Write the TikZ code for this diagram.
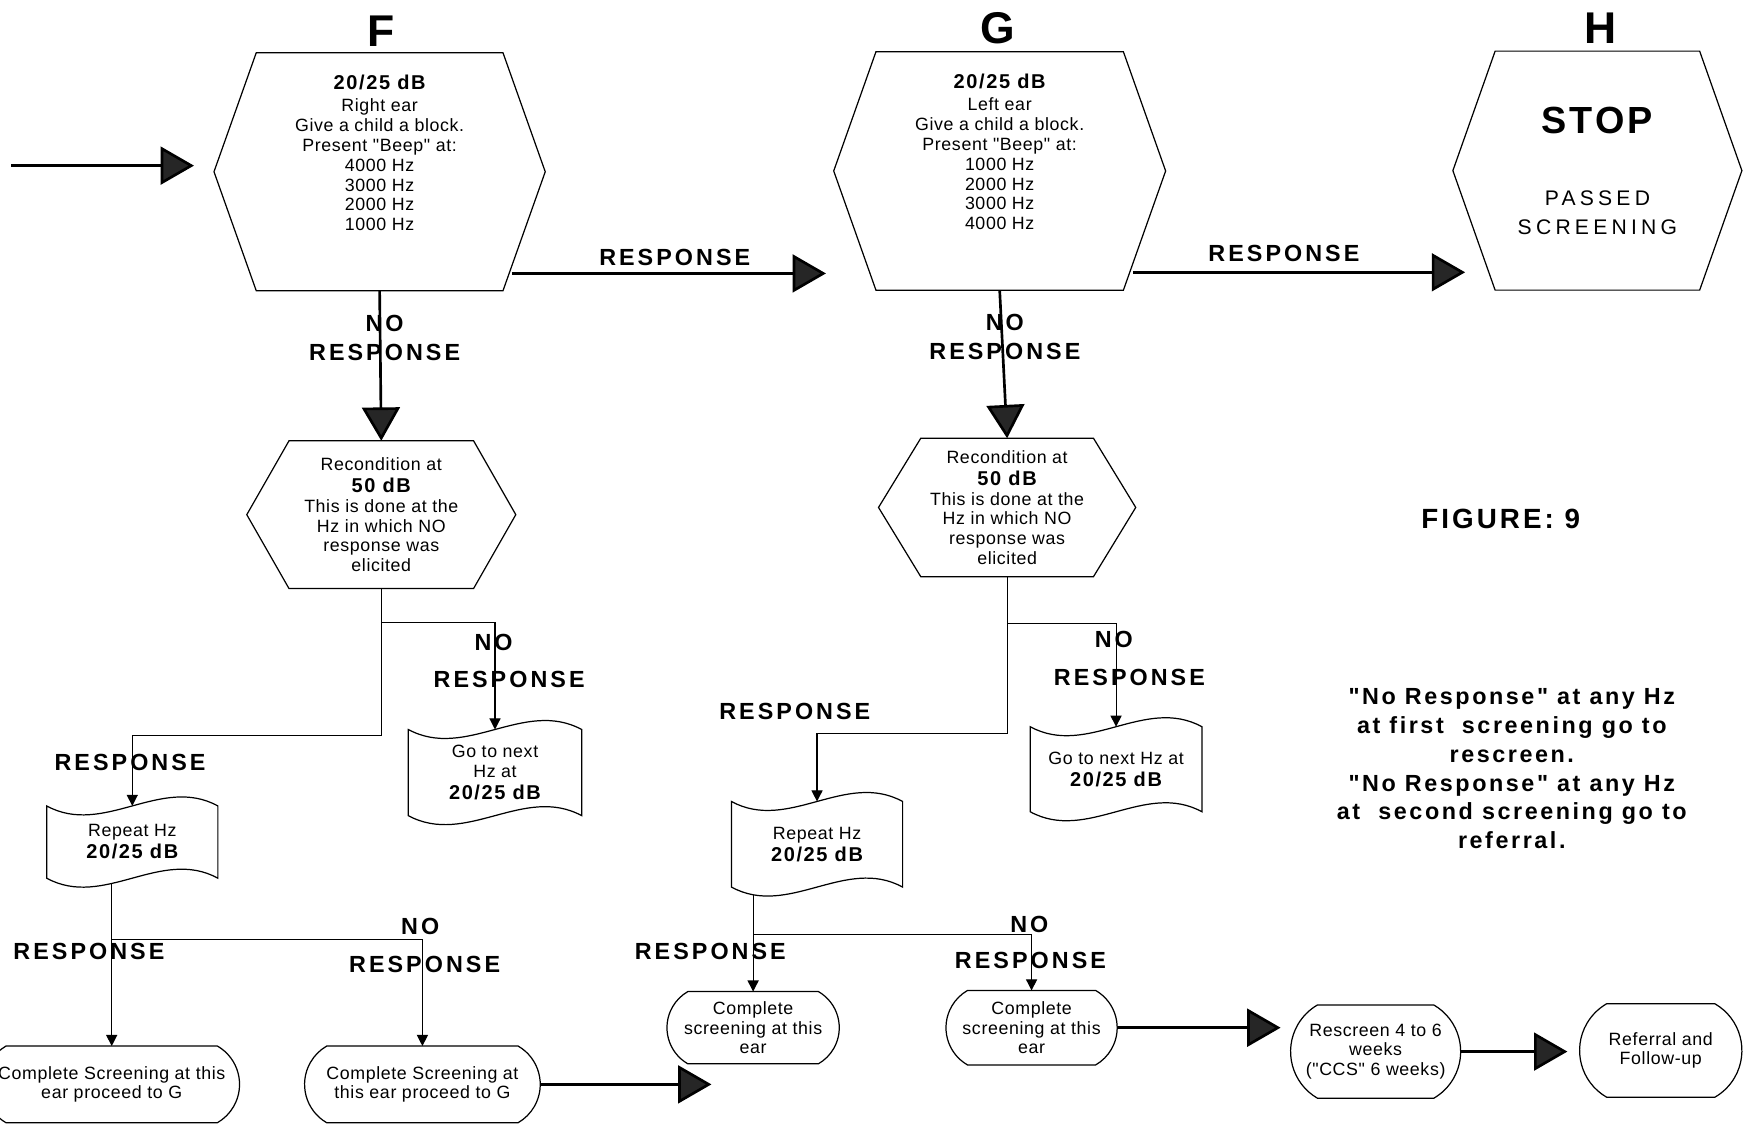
\documentclass[tikz,border=0pt]{standalone}
\usepackage{fontspec}
\setmainfont{Liberation Sans}
\newfontfamily\bodyf[LetterSpace=3.5]{Liberation Sans}
\newfontfamily\valf[LetterSpace=8]{Liberation Sans}
\newfontfamily\lblf[LetterSpace=13]{Liberation Sans}
\newfontfamily\notef[LetterSpace=11]{Liberation Sans}
\newfontfamily\passf[LetterSpace=20]{Liberation Sans}
\usetikzlibrary{arrows.meta,shapes.misc,calc}
\pgfdeclarelayer{bg}
\pgfsetlayers{bg,main}
\newcommand\drawhex[1]{\draw[hexline] (#1.west) -- ([xshift=19pt]#1.north west) -- ([xshift=-19pt]#1.north east) -- (#1.east) -- ([xshift=-19pt]#1.south east) -- ([xshift=19pt]#1.south west) -- cycle;}
\newcommand\drawdoc[1]{\filldraw[hexline, fill=white] (#1.north west) .. controls ($(#1.north west)!1/3!(#1.north east)+(0,28)$) and ($(#1.north west)!2/3!(#1.north east)+(0,-28)$) .. (#1.north east) -- (#1.south east) .. controls ($(#1.south west)!2/3!(#1.south east)+(0,-28)$) and ($(#1.south west)!1/3!(#1.south east)+(0,28)$) .. (#1.south west) -- cycle;}
\newcommand\val[1]{{\valf\bfseries\fontsize{9}{9}\selectfont #1}}
\begin{document}
\begin{tikzpicture}[x=0.5pt,y=-0.5pt,
  hexline/.style={draw=black, line width=0.55pt},
  hexbox/.style={rectangle, inner sep=0pt, outer sep=0pt},
  body/.style={font=\bodyf\fontsize{8}{8.9}\selectfont, align=center, text=black},
  doc/.style={rectangle, inner sep=0pt, outer sep=0pt, body},
  term/.style={rounded rectangle, rounded rectangle arc length=120, draw, fill=white, line width=0.55pt, inner sep=0pt, outer sep=0pt, body},
  lbl/.style={font=\lblf\bfseries\fontsize{10.5}{12}\selectfont, inner sep=0pt},
  letter/.style={font=\bfseries\fontsize{20}{20}\selectfont, inner sep=0pt},
  bigarrow/.style={line width=1.2pt, -{Triangle[length=15pt,width=17pt,fill=black!85]}},
  conn/.style={line width=0.5pt},
  smallarrow/.style={line width=0.5pt, -{Triangle[length=5pt,width=5pt]}}]
\useasboundingbox (0,0) rectangle (1568,1012);
\clip (0,0) rectangle (1568,1012);

% column letters
\node[letter] (lF) at (343,28) {F};
\node[letter] (lG) at (898,25) {G};
\node[letter] (lH) at (1440,25) {H};

% main hexagons
\node[hexbox] (F) at (341.5,154.5) {\parbox[c][107pt][t]{149pt}{\centering\bodyf\fontsize{8}{8.9}\selectfont\vspace*{10pt}\val{20/25 dB}\\[1.2pt]Right ear\\Give a child a block.\\Present "Beep" at:\\4000 Hz\\3000 Hz\\2000 Hz\\1000 Hz}};
\drawhex{F}
\node[hexbox] (G) at (899.3,153.8) {\parbox[c][107.25pt][t]{149.3pt}{\centering\bodyf\fontsize{8}{8.9}\selectfont\vspace*{10pt}\val{20/25 dB}\\[1.2pt]Left ear\\Give a child a block.\\Present "Beep" at:\\1000 Hz\\2000 Hz\\3000 Hz\\4000 Hz}};
\drawhex{G}
\node[hexbox, minimum width=130pt, minimum height=107.5pt, align=center, font=\passf\fontsize{9.5}{13}\selectfont] (H) at (1437,153.5) {{\valf\bfseries\fontsize{17}{17}\selectfont STOP}\\[19.4pt]PASSED\\SCREENING};
\drawhex{H}

% recondition hexagons
\node[hexbox, body, minimum width=121pt, minimum height=66.5pt] (RF) at (343,463) {Recondition at\\[1pt]\val{50 dB}\\This is done at the\\Hz in which NO\\response was\\elicited};
\drawhex{RF}
\node[hexbox, body, minimum width=115.7pt, minimum height=62.25pt] (RG) at (906,456.5) {Recondition at\\[1pt]\val{50 dB}\\This is done at the\\Hz in which NO\\response was\\elicited};
\drawhex{RG}

% documents (outline drawn on background layer)
\node[doc, minimum width=78pt, minimum height=38.75pt] (NF) at (445.3,695) {Go to next\\Hz at\\[1pt]\val{20/25 dB}};
\node[doc, minimum width=77pt, minimum height=32.5pt] (RepF) at (119,757.5) {Repeat Hz\\[1pt]\val{20/25 dB}};
\node[doc, minimum width=77.25pt, minimum height=38.25pt] (NG) at (1004,692) {Go to next Hz at\\[1pt]\val{20/25 dB}};
\node[doc, minimum width=77pt, minimum height=38.5pt] (RepG) at (735,759.5) {Repeat Hz\\[1pt]\val{20/25 dB}};

% terminals
\node[term, minimum width=115pt, minimum height=34.5pt] (F1) at (100.5,975.5) {Complete Screening at this\\ear proceed to G};
\node[term, minimum width=106pt, minimum height=34.5pt] (F2) at (380,975.5) {Complete Screening at\\this ear proceed to G};
\node[term, minimum width=77.5pt, minimum height=32.5pt] (G1) at (677.5,924.5) {Complete\\screening at this\\ear};
\node[term, minimum width=77pt, minimum height=33.5pt] (G2) at (928,924.5) {Complete\\screening at this\\ear};
\node[term, minimum width=76.5pt, minimum height=42pt] (Resc) at (1237.5,946) {Rescreen 4 to 6\\weeks\\("CCS" 6 weeks)};
\node[term, minimum width=73pt, minimum height=42pt] (Ref) at (1494,945) {Referral and\\Follow-up};

% labels
\node[lbl] (lbFG) at (607,232) {RESPONSE};
\node[lbl] (lbGH) at (1155,228) {RESPONSE};
\node[lbl] (lbFn1) at (346,291) {NO};
\node[lbl] (lbFn2) at (346,317) {RESPONSE};
\node[lbl] (lbGn1) at (904,290) {NO};
\node[lbl] (lbGn2) at (904,316) {RESPONSE};
\node[lbl] (lbRFn1) at (444,578) {NO};
\node[lbl] (lbRFn2) at (458,611) {RESPONSE};
\node[lbl] (lbRFr) at (117,686) {RESPONSE};
\node[lbl] (lbRGn1) at (1002,575) {NO};
\node[lbl] (lbRGn2) at (1016,609) {RESPONSE};
\node[lbl] (lbRGr) at (715,640) {RESPONSE};
\node[lbl] (lbPFr) at (80,856) {RESPONSE};
\node[lbl] (lbPFn1) at (378,833) {NO};
\node[lbl] (lbPFn2) at (382,868) {RESPONSE};
\node[lbl] (lbPGr) at (639,856) {RESPONSE};
\node[lbl] (lbPGn1) at (926,832) {NO};
\node[lbl] (lbPGn2) at (927,864) {RESPONSE};

\node[font=\notef\bfseries\fontsize{12.5}{14}\selectfont, inner sep=0pt] (fig) at (1350,467) {FIGURE: 9};
\node[font=\notef\bfseries\fontsize{10.5}{13}\selectfont, inner sep=0pt, align=center] (note) at (1360,691.5) {"No Response" at any Hz\\at first\ \ screening go to\\rescreen.\\"No Response" at any Hz\\at\ \ second screening go to\\referral.};

% connectors
\begin{pgfonlayer}{bg}
\fill[white] (0,0) rectangle (1568,1012);
\coordinate (start) at (10,149);
\draw[bigarrow, shorten >=9pt] (start) -- (start -| F.west);
\coordinate (Fse) at ([xshift=-19pt]F.south east);
\coordinate (Fout) at ($(F.east)!0.855!(Fse)$);
\coordinate (Gin) at ([xshift=-3.5pt]G.west);
\draw[bigarrow, shorten <=1.5pt] (Fout) -- (Fout -| Gin);
\coordinate (Gse) at ([xshift=-19pt]G.south east);
\coordinate (Gout) at ($(G.east)!0.85!(Gse)$);
\coordinate (Hin) at ([xshift=5.5pt]H.west);
\draw[bigarrow, shorten <=1.5pt] (Gout) -- (Gout -| Hin);
\draw[bigarrow] (F.south) -- (RF.north);
\draw[bigarrow] (G.south) -- (RG.north);
% recondition F branches
\coordinate (RFj) at ($(RF.south)+(0,30.5)$);
\draw[smallarrow] (RF.south) -- (RFj) -| (NF.north);
\draw[smallarrow] (RFj) |- ($(RepF.north)+(0,-63)$) -| (RepF.north);
% recondition G branches
\coordinate (RGj) at ($(RG.south)+(0,42)$);
\draw[smallarrow] (RG.south) -- (RGj) -| (NG.north);
\draw[smallarrow] (RGj) |- ($(RepG.north)+(0,-61)$) -| (RepG.north);
% repeat F branches
\coordinate (RepFo) at ($(RepF.south)+(-18.5,0)$);
\draw[smallarrow] (RepFo) -- (F1.north);
\coordinate (F2j) at ($(F2.north)+(0,-96)$);
\draw[smallarrow] (F2j -| RepFo) -| (F2.north);
% repeat G branches
\coordinate (RepGo) at ($(RepG.south)+(-57.5,0)$);
\draw[smallarrow] (RepGo) -- (RepGo |- G1.north);
\coordinate (G2j) at ($(G2.north)+(0,-50)$);
\draw[smallarrow] (G2j -| RepGo) -| (G2.north);
% bottom arrows
\coordinate (toG) at (640,975.5);
\draw[bigarrow] (F2.east) -- (toG);
\draw[bigarrow, shorten >=4.5pt] (G2.east) -- (G2.east -| Resc.west);
\draw[bigarrow, shorten >=5.5pt] (Resc.east) -- (Resc.east -| Ref.west);
% document outlines over the connector ends
\drawdoc{NF}
\drawdoc{RepF}
\drawdoc{NG}
\drawdoc{RepG}
\end{pgfonlayer}
\end{tikzpicture}
\end{document}
